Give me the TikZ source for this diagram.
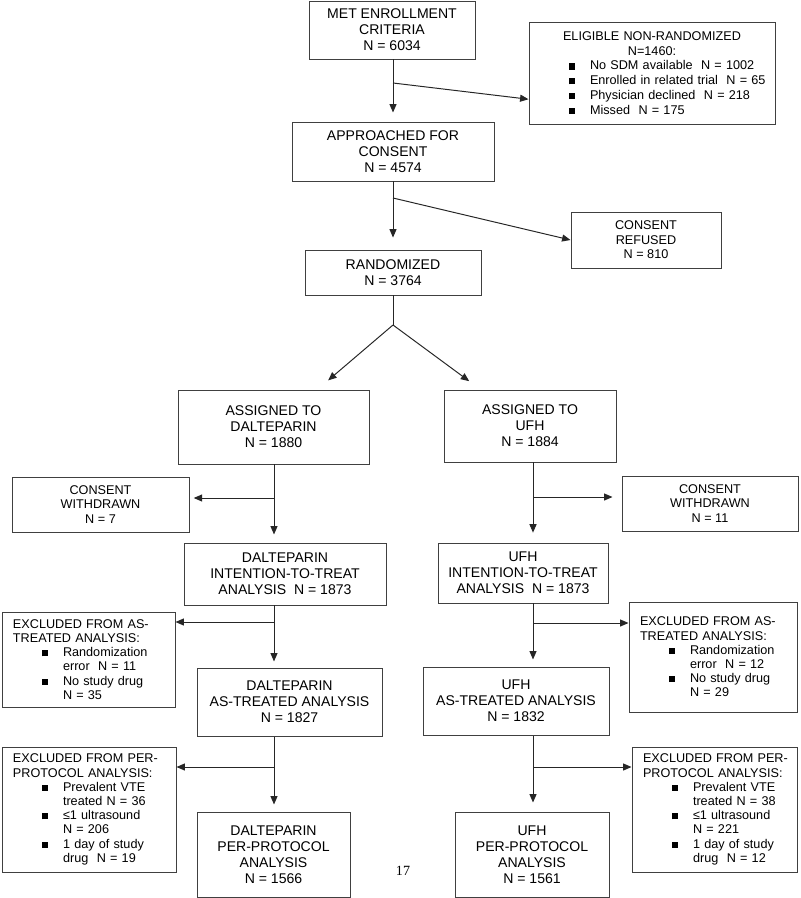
\documentclass[tikz,border=0pt]{standalone}
\usepackage{fontspec}
\setmainfont{Liberation Sans}
\newfontfamily\pagefont{Liberation Serif}
\usetikzlibrary{arrows.meta}
\newlength\px
\setlength\px{0.025cm}
\newcommand\sqb{\rule[0.3pt]{4.4pt}{4.4pt}}
\newcommand\itm[1]{\makebox[50\px][l]{\hspace*{29\px}\sqb}\mbox{#1}}
\newcommand\cnt[1]{\hspace*{50\px}\mbox{#1}}

\begin{document}
\begin{tikzpicture}
[x=0.025cm,y=-0.025cm,
box/.style={draw=black!75,line width=0.7pt,align=center,inner sep=0pt,font=\fontsize{10}{11.4}\selectfont},
small/.style={font=\fontsize{9}{10.4}\selectfont},
listbox/.style={draw=black!75,line width=0.7pt,align=left,inner xsep=11\px,inner ysep=0pt,font=\fontsize{9}{10.1}\selectfont},
arr/.style={draw=black!85,line width=0.7pt,-{Triangle[length=6pt,width=5pt]}},
line/.style={draw=black!85,line width=0.7pt}]
\useasboundingbox (0,0) rectangle (800,898);

\node[box,minimum width=166\px,minimum height=58\px] (v1) at (392,30) {MET ENROLLMENT\\CRITERIA\\N = 6034};
\node[listbox,text width=224\px,minimum height=102\px,font=\fontsize{9}{10.5}\selectfont] (v2) at (652,73) {\makebox[\hsize]{ELIGIBLE NON-RANDOMIZED}\\\makebox[\hsize]{N=1460:}\\\itm{No SDM available~~N = 1002}\\\itm{Enrolled in related trial~~N = 65}\\\itm{Physician declined~~N = 218}\\\itm{Missed~~N = 175}};
\node[box,minimum width=202\px,minimum height=59\px] (v3) at (393,151.5) {APPROACHED FOR\\CONSENT\\N = 4574};
\node[box,small,minimum width=150\px,minimum height=56\px] (v4) at (646,240) {CONSENT\\REFUSED\\N = 810};
\node[box,minimum width=176\px,minimum height=45\px] (v5) at (393,272.5) {RANDOMIZED\\N = 3764};

\node[box,minimum width=191\px,minimum height=74\px] (v6) at (273.5,427) {ASSIGNED TO\\DALTEPARIN\\N = 1880};
\node[box,minimum width=172\px,minimum height=72\px] (v7) at (530,426) {ASSIGNED TO\\UFH\\N = 1884};

\node[box,small,minimum width=177\px,minimum height=55\px] (v8) at (100.5,504.5) {CONSENT\\WITHDRAWN\\N = 7};
\node[box,minimum width=202\px,minimum height=62\px] (v9) at (285,574) {DALTEPARIN\\INTENTION-TO-TREAT\\ANALYSIS~~N = 1873};
\node[listbox,text width=151\px,minimum height=95\px] (v10) at (88.5,659.5) {\mbox{EXCLUDED FROM AS-}\\\mbox{TREATED ANALYSIS:}\\\itm{Randomization}\\\cnt{error~~N = 11}\\\itm{No study drug}\\\cnt{N = 35}};
\node[box,minimum width=185\px,minimum height=68\px] (v11) at (289.5,702) {DALTEPARIN\\AS-TREATED ANALYSIS\\N = 1827};
\node[listbox,text width=152\px,minimum height=125\px] (v12) at (89,809.5) {\mbox{EXCLUDED FROM PER-}\\\mbox{PROTOCOL ANALYSIS:}\\\itm{Prevalent VTE}\\\cnt{treated N = 36}\\\itm{≤1 ultrasound}\\\cnt{N = 206}\\\itm{1 day of study}\\\cnt{drug~~N = 19}};
\node[box,minimum width=153\px,minimum height=85\px] (v13) at (273.5,854.5) {DALTEPARIN\\PER-PROTOCOL\\ANALYSIS\\N = 1566};

\node[box,small,minimum width=176\px,minimum height=55\px] (v14) at (710,503.5) {CONSENT\\WITHDRAWN\\N = 11};
\node[box,minimum width=170\px,minimum height=60\px] (v15) at (523,573) {UFH\\INTENTION-TO-TREAT\\ANALYSIS~~N = 1873};
\node[listbox,text width=146\px,minimum height=110\px] (v16) at (713,657) {\mbox{EXCLUDED FROM AS-}\\\mbox{TREATED ANALYSIS:}\\\itm{Randomization}\\\cnt{error~~N = 12}\\\itm{No study drug}\\\cnt{N = 29}};
\node[box,minimum width=186\px,minimum height=68\px] (v17) at (516,701) {UFH\\AS-TREATED ANALYSIS\\N = 1832};
\node[listbox,text width=143\px,minimum height=125\px] (v18) at (714.5,809.5) {\mbox{EXCLUDED FROM PER-}\\\mbox{PROTOCOL ANALYSIS:}\\\itm{Prevalent VTE}\\\cnt{treated N = 38}\\\itm{≤1 ultrasound}\\\cnt{N = 221}\\\itm{1 day of study}\\\cnt{drug~~N = 12}};
\node[box,minimum width=154\px,minimum height=85\px] (v19) at (532,854.5) {UFH\\PER-PROTOCOL\\ANALYSIS\\N = 1561};

\node[font=\pagefont\fontsize{10}{12}\selectfont] (pg) at (403,871) {17};

% branch points
\coordinate (c1) at (393,83);
\coordinate (c2) at (393,198);
\coordinate (c3) at (393,325);
\coordinate (c4) at (274,498);
\coordinate (c5) at (274,622);
\coordinate (c6) at (274,767);
\coordinate (c7) at (533,497);
\coordinate (c8) at (533,623);
\coordinate (c9) at (533,767);

\draw[arr,shorten >=6.4pt] (v3.north |- v1.south) -- (v3.north);
\draw[arr] (c1) -- (v2.192);
\draw[arr,shorten >=8.5pt] (v3.south) -- (v5.north);
\draw[arr] (c2) -- (v4.west);
\draw[line] (v5.south) -- (c3);
\draw[arr,shorten >=10pt] (c3) -- (v6);
\draw[arr,shorten >=10pt] (c3) -- (v7);

\draw[arr,shorten >=5.7pt] (v6.south -| c4) -- (v9.north -| c4);
\draw[arr,shorten >=4.3pt] (v9.south -| c5) -- (v11.north -| c5);
\draw[arr,shorten >=5pt] (v11.south -| c6) -- (v13.north -| c6);
\draw[arr,shorten >=7pt] (v7.south -| c7) -- (v15.north -| c7);
\draw[arr,shorten >=5pt] (v15.south -| c8) -- (v17.north -| c8);
\draw[arr,shorten >=6.4pt] (v17.south -| c9) -- (v19.north -| c9);

\draw[arr,shorten >=3pt] (c4) -- (v8.east |- c4);
\draw[arr,shorten >=6.4pt] (c7) -- (v14.west |- c7);
\foreach \from/\to in {c5/v10,c6/v12}
\draw[arr] (\from) -- (\to.east |- \from);
\foreach \from/\to in {c8/v16,c9/v18}
\draw[arr] (\from) -- (\to.west |- \from);
\end{tikzpicture}
\end{document}
